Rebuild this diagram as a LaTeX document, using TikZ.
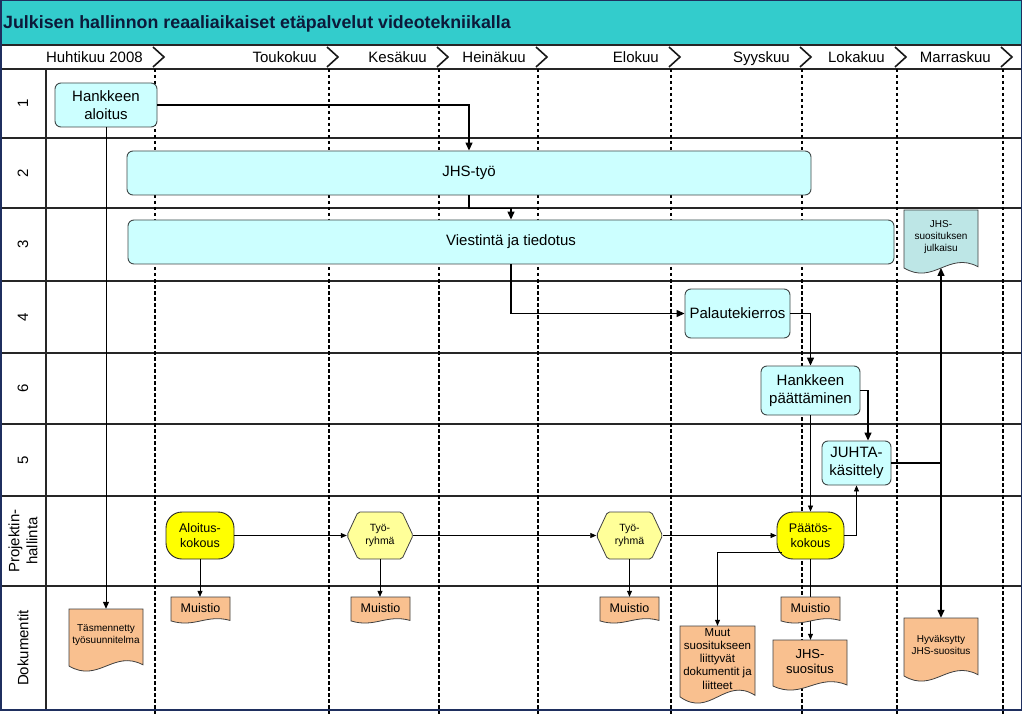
\documentclass[tikz,border=0pt]{standalone}
\usepackage{fontspec}
\setmainfont{Liberation Sans}
\usetikzlibrary{arrows.meta,calc}
\pgfdeclarelayer{front}
\pgfsetlayers{main,front}
\definecolor{titlebg}{HTML}{33CCCC}
\definecolor{titletext}{HTML}{0C1A3A}
\definecolor{navy}{HTML}{1F2F5F}
\definecolor{cyanfill}{HTML}{CCFFFF}
\definecolor{tealdoc}{HTML}{BDE6E6}
\definecolor{orangedoc}{HTML}{F9C08F}
\definecolor{yel}{HTML}{FFFF00}
\definecolor{lightyel}{HTML}{FFFF99}
\definecolor{edge}{HTML}{3F4848}
\tikzset{
  fA/.style={font=\fontsize{15}{18}\selectfont},
  fB/.style={font=\fontsize{12.5}{15}\selectfont},
  fC/.style={font=\fontsize{10.5}{12.5}\selectfont},
  fD/.style={font=\fontsize{10}{12}\selectfont},
  fE/.style={font=\fontsize{11.5}{13.3}\selectfont},
  fF/.style={font=\fontsize{13}{15}\selectfont},
  box/.style={draw=edge, line width=0.9pt, fill=cyanfill, rounded corners=6pt,
    align=center, inner sep=0pt, fA},
  meet/.style={draw=black!85, line width=0.9pt, fill=yel, rounded corners=16pt,
    align=center, inner sep=0pt, fB},
  hexedge/.style={draw=black!75, line width=0.8pt, fill=lightyel, rounded corners=2pt},
  docedge/.style={draw=black!75, line width=0.8pt},
  flow/.style={line width=1.3pt, -{Triangle[length=8pt,width=7pt]}},
  med/.style={line width=1pt, -{Triangle[length=7pt,width=6pt]}},
  thinflow/.style={line width=0.7pt, -{Triangle[length=6pt,width=5pt]}},
  monthline/.style={line width=2.7pt, dash pattern=on 3.5pt off 2.5pt},
  lane/.style={line width=1.3pt, draw=black!85},
  chev/.style={line width=1.6pt, draw=black!90},
}
% document shape: name, x, y, w, h, fill, font style, text
\newcommand\docnode[8]{%
  \begin{scope}[shift={(#2,#3)}]
    \draw[docedge, fill=#6] (0,0) -- (#4,0) -- (#4,{0.9*#5})
      .. controls ({0.6*#4},{0.65*#5}) and ({0.4*#4},{1.2*#5}) .. (0,{0.92*#5}) -- cycle;
  \end{scope}
  \pgfmathsetmacro\dochgt{0.85*#5}
  \node[inner sep=0pt, align=center, #7, minimum width=#4pt, minimum height=\dochgt pt]
    (#1) at ({#2+#4/2},{#3+0.425*#5}) {#8};
  \coordinate (#1-b) at ({#2+#4/2},{#3+0.92*#5});
}
% hexagon: name, cx, cy, text
\newcommand\hexnode[4]{%
  \draw[hexedge] ({#2-33},#3) -- ({#2-22},{#3-23.5}) -- ({#2+22},{#3-23.5})
    -- ({#2+33},#3) -- ({#2+22},{#3+23.5}) -- ({#2-22},{#3+23.5}) -- cycle;
  \node[inner sep=0pt, minimum width=66pt, minimum height=47pt, align=center, fC]
    (#1) at (#2,#3) {#4};
}
\begin{document}
\begin{tikzpicture}[x=1pt,y=-1pt]
\useasboundingbox (0,0) rectangle (1023,714);
\fill[white] (0,0) rectangle (1023,714);
% title bar
\fill[titlebg] (0,0) rectangle (1022,45);
\node[anchor=base west, font=\bfseries\fontsize{17.8}{21}\selectfont, text=titletext, inner sep=0pt]
  (title) at (3,29) {Julkisen hallinnon reaaliaikaiset etäpalvelut videotekniikalla};
% grid
\draw[lane] (0,45) -- (1022,45);
\draw[lane] (0,69) -- (1022,69);
\foreach \y in {138,208,281,353,424,496,586} \draw[lane] (0,\y) -- (1022,\y);
\draw[lane] (46,69) -- (46,710);
% month boundaries
\foreach \x in {155,329,439,538,671,802,897,1003} {
  \draw[monthline] (\x,69) -- (\x,714);
  \draw[chev] ({\x-2},47) -- ({\x+9},57) -- ({\x-2},67);
}
\foreach \t/\x [count=\i] in {Huhtikuu 2008/143, Toukokuu/317, Kesäkuu/427, Heinäkuu/526,
    Elokuu/659, Syyskuu/790, Lokakuu/885, Marraskuu/991}
  \node[anchor=base east, fA, inner sep=0pt] (mon\i) at (\x,62.5) {\t};
% lane labels
\foreach \t/\y [count=\i] in {1/103.5, 2/173, 3/244.5, 4/317, 6/388.5, 5/460,
    {Projektin-\\hallinta}/541, Dokumentit/648}
  \node[rotate=90, fA, align=center, inner sep=0pt] (lane\i) at (23,\y) {\t};
% outer border
\draw[navy, line width=1.5pt] (0.75,0.75) rectangle (1021.5,710);

% process boxes
\node[box, minimum width=102pt, minimum height=44pt] (aloitus) at (106,105) {Hankkeen\\aloitus};
\node[box, minimum width=684pt, minimum height=44pt] (jhs) at (469,173) {JHS-työ};
\node[box, minimum width=766pt, minimum height=44pt] (viest) at (511,242) {Viestintä ja tiedotus};
\node[box, minimum width=105pt, minimum height=49pt] (palaute) at (737.5,313.5) {Palautekierros};
\node[box, minimum width=99pt, minimum height=49pt] (paatt) at (810.5,390.5) {Hankkeen\\päättäminen};
\node[box, minimum width=69pt, minimum height=44pt] (juhta) at (856.5,463) {JUHTA-\\käsittely};

% meetings
\node[meet, minimum width=68pt, minimum height=47pt] (aloitusk) at (200,535.5) {Aloitus-\\kokous};
\hexnode{tyo1}{380}{535.5}{Työ-\\ryhmä}
\hexnode{tyo2}{629.5}{535.5}{Työ-\\ryhmä}
\node[meet, minimum width=67pt, minimum height=47pt] (paatos) at (810.5,535.5) {Päätös-\\kokous};

% documents
\docnode{julk}{904}{210}{74}{63}{tealdoc}{fD}{JHS-\\suosituksen\\julkaisu}
\docnode{tasm}{69}{609}{74}{62}{orangedoc}{fD}{Täsmennetty\\työsuunnitelma}
\docnode{m1}{171}{597}{59}{26}{orangedoc}{fB}{Muistio}
\docnode{m2}{351}{597}{59}{26}{orangedoc}{fB}{Muistio}
\docnode{m3}{600}{597}{59}{26}{orangedoc}{fB}{Muistio}
\docnode{muut}{680}{626}{75}{77}{orangedoc}{fE}{Muut\\suositukseen\\liittyvät\\dokumentit ja\\liitteet}
\begin{pgfonlayer}{front}
\docnode{m4}{781}{597}{59}{26}{orangedoc}{fB}{Muistio}
\end{pgfonlayer}
\docnode{jhss}{773}{640}{74}{50}{orangedoc}{fF}{JHS-\\suositus}
\docnode{hyv}{904}{618}{74}{63}{orangedoc}{fD}{Hyväksytty\\JHS-suositus}

% connectors
\draw[flow] (aloitus.east) -| (jhs.north);
\draw[med] (aloitus.south) -- (tasm.north);
\draw[flow] (jhs.south) -- ++(0,13) -| (viest.north);
\draw[flow] (viest.south) |- (palaute.west);
\draw[flow] (palaute.east) -| (paatt.north);
\draw[flow] (paatt.east) -| ($(juhta.north)+(11.5,0)$);
\draw[thinflow] (paatt.south) -- (paatos.north);
\draw[flow] (juhta.east) -| (julk-b);
\draw[flow] (juhta.east) -| (hyv.north);
\draw[thinflow] (aloitusk.east) -- (tyo1.west);
\draw[thinflow] (tyo1.east) -- (tyo2.west);
\draw[thinflow] (tyo2.east) -- (paatos.west);
\draw[thinflow] (paatos.east) -| (juhta.south);
\draw[thinflow] (aloitusk.south) -- (aloitusk.south |- m1.north);
\draw[thinflow] (tyo1.south) -- (tyo1.south |- m2.north);
\draw[thinflow] (tyo2.south) -- (tyo2.south |- m3.north);
\draw[thinflow] ($(paatos.west)+(5,16.5)$) -| (muut.north);
\draw[thinflow] (paatos.south) -- (paatos.south |- jhss.north);
\end{tikzpicture}
\end{document}
